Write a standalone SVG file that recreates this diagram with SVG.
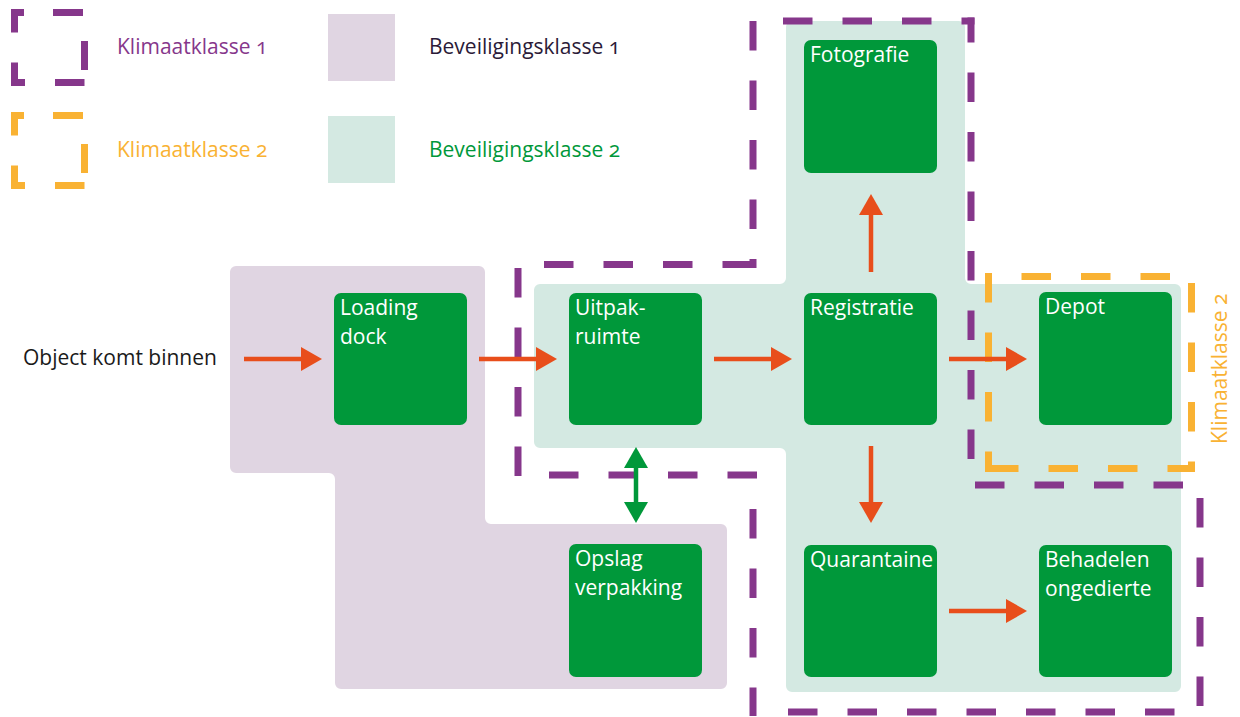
<svg xmlns="http://www.w3.org/2000/svg" width="1240" height="717" viewBox="0 0 1240 717">
<style>
text{font-family:"Open Sans","Noto Sans","Liberation Sans",sans-serif;font-size:21px;font-variant-numeric:oldstyle-nums;font-feature-settings:"onum"}
.lbl{fill:#ffffff}
.box{fill:#00983a}
.k1{fill:none;stroke:#86378b;stroke-width:7;stroke-dasharray:29.5 30;stroke-linecap:butt}
.k2{fill:none;stroke:#f9b233;stroke-width:7;stroke-dasharray:29.5 30;stroke-linecap:butt}
.arr{stroke:#e84e1b;stroke-width:4.5;fill:none}
.arrg{stroke:#00983a;stroke-width:4.5;fill:none}
.legsq{fill:none;stroke-width:7;stroke-dasharray:30 30 29 12.5 29.5 30 30.5 30 30 29;stroke-dashoffset:251.5}
</style>
<defs>
<marker id="ah" markerUnits="userSpaceOnUse" markerWidth="22" markerHeight="24" refX="0" refY="12" orient="auto" viewBox="0 0 22 24">
<path d="M0,0 L21,12 L0,24 Z" fill="#e84e1b"/>
</marker>
<marker id="ahg" markerUnits="userSpaceOnUse" markerWidth="22" markerHeight="24" refX="0" refY="12" orient="auto-start-reverse" viewBox="0 0 22 24">
<path d="M0,0 L21,12 L0,24 Z" fill="#00983a"/>
</marker>
<path id="legsqpath" d="M24,12.5 H84.5 V82.5 H14.5 V12.5 Z"/>
</defs>

<g id="legend">
<use href="#legsqpath" class="legsq" stroke="#86378b"/>
<use href="#legsqpath" class="legsq" stroke="#f9b233" transform="translate(0,103)"/>
<text x="117" y="54" fill="#86378b">Klimaatklasse 1</text>
<text x="117" y="157" fill="#f9b233">Klimaatklasse 2</text>
<rect x="328" y="14" width="67" height="67" fill="#e0d5e2"/>
<rect x="328" y="116" width="67" height="67" fill="#d4e9e2"/>
<text x="429" y="54" fill="#2b1b38">Beveiligingsklasse 1</text>
<text x="429" y="157" fill="#00983a">Beveiligingsklasse 2</text>
</g>

<g id="zones">
<path id="beveiliging1" fill="#e0d5e2" d="M236,266 H479 A6 6 0 0 1 485,272 V518 A6 6 0 0 0 491,524 H721 A6 6 0 0 1 727,530 V683 A6 6 0 0 1 721,689 H341 A6 6 0 0 1 335,683 V479 A6 6 0 0 0 329,473 H236 A6 6 0 0 1 230,467 V272 A6 6 0 0 1 236,266 Z"/>
<path id="beveiliging2" fill="#d4e9e2" d="M540,284 H780 A6 6 0 0 0 786,278 V27 A6 6 0 0 1 792,21 H959 A6 6 0 0 1 965,27 V278 A6 6 0 0 0 971,284 H1175 A6 6 0 0 1 1181,290 V686 A6 6 0 0 1 1175,692 H792 A6 6 0 0 1 786,686 V454 A6 6 0 0 0 780,448 H540 A6 6 0 0 1 534,442 V290 A6 6 0 0 1 540,284 Z"/>
</g>

<g id="boxes">
<g id="loading-dock"><rect class="box" x="334" y="293" width="133" height="132" rx="7"/><text class="lbl" x="340" y="315">Loading</text><text class="lbl" x="340" y="344">dock</text></g>
<g id="uitpakruimte"><rect class="box" x="569" y="293" width="133" height="132" rx="7"/><text class="lbl" x="575" y="315">Uitpak-</text><text class="lbl" x="575" y="344">ruimte</text></g>
<g id="fotografie"><rect class="box" x="804" y="40" width="133" height="133" rx="7"/><text class="lbl" x="810" y="62">Fotografie</text></g>
<g id="registratie"><rect class="box" x="804" y="293" width="133" height="132" rx="7"/><text class="lbl" x="810" y="315">Registratie</text></g>
<g id="depot"><rect class="box" x="1039" y="292" width="133" height="133" rx="7"/><text class="lbl" x="1045" y="314">Depot</text></g>
<g id="opslag-verpakking"><rect class="box" x="569" y="544" width="133" height="133" rx="7"/><text class="lbl" x="575" y="566">Opslag</text><text class="lbl" x="575" y="595">verpakking</text></g>
<g id="quarantaine"><rect class="box" x="804" y="545" width="133" height="132" rx="7"/><text class="lbl" x="810" y="567">Quarantaine</text></g>
<g id="behadelen-ongedierte"><rect class="box" x="1039" y="545" width="133" height="132" rx="7"/><text class="lbl" x="1045" y="567">Behadelen</text><text class="lbl" x="1045" y="596">ongedierte</text></g>
</g>

<g id="klimaatklasse1">
<line class="k1" x1="753" y1="21" x2="974.5" y2="21" stroke-dashoffset="29.5"/>
<line class="k1" x1="971" y1="17.5" x2="971" y2="488.5" stroke-dashoffset="4.5"/>
<line class="k1" x1="975" y1="485" x2="1203.5" y2="485"/>
<line class="k1" x1="1200" y1="498" x2="1200" y2="712"/>
<line class="k1" x1="788" y1="712" x2="1200" y2="712"/>
<line class="k1" x1="753" y1="479" x2="753" y2="716" stroke-dashoffset="29.5"/>
<line class="k1" x1="549" y1="475" x2="757" y2="475"/>
<line class="k1" x1="518" y1="268" x2="518" y2="479"/>
<line class="k1" x1="544" y1="264.5" x2="757" y2="264.5"/>
<line class="k1" x1="753" y1="268" x2="753" y2="17" stroke-dashoffset="20.5"/>
</g>

<g id="klimaatklasse2">
<line class="k2" x1="991.5" y1="276.5" x2="1195" y2="276.5" stroke-dashoffset="29.5"/>
<line class="k2" x1="1191.5" y1="283" x2="1191.5" y2="472"/>
<line class="k2" x1="989" y1="468.5" x2="1195" y2="468.5"/>
<line class="k2" x1="988.5" y1="273" x2="988.5" y2="472"/>
<text transform="translate(1227,444) rotate(-90)" fill="#f9b233">Klimaatklasse 2</text>
</g>

<text id="start" x="23" y="365" fill="#1a1a1a">Object komt binnen</text>

<g id="connectors">
<line class="arr" x1="244" y1="359" x2="301" y2="359" marker-end="url(#ah)"/>
<line class="arr" x1="479" y1="359" x2="536" y2="359" marker-end="url(#ah)"/>
<line class="arr" x1="714" y1="359" x2="771" y2="359" marker-end="url(#ah)"/>
<line class="arr" x1="949" y1="359" x2="1006" y2="359" marker-end="url(#ah)"/>
<line class="arr" x1="871" y1="272" x2="871" y2="215" marker-end="url(#ah)"/>
<line class="arr" x1="871" y1="446" x2="871" y2="502" marker-end="url(#ah)"/>
<line class="arr" x1="949" y1="611" x2="1006" y2="611" marker-end="url(#ah)"/>
<line class="arrg" x1="636" y1="468" x2="636" y2="502" marker-start="url(#ahg)" marker-end="url(#ahg)"/>
</g>
</svg>
